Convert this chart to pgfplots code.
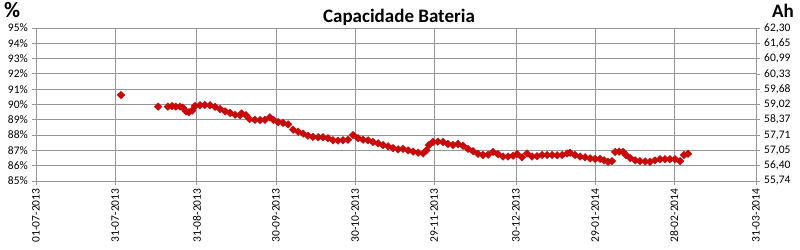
\documentclass[border=0pt]{standalone}
\usepackage{pgfplots}
\pgfplotsset{compat=1.18}
\usepackage{fontspec}
\setmainfont{Carlito}
\definecolor{gridc}{RGB}{150,150,150}
\definecolor{mred}{RGB}{200,10,10}
\begin{document}
\begin{tikzpicture}[x=1pt,y=1pt]
\path[use as bounding box] (0,0) rectangle (800,249);
\begin{axis}[
  at={(36pt,68pt)}, anchor=south west,
  scale only axis, width=720pt, height=153pt,
  xmin=0, xmax=273, ymin=85, ymax=95,
  axis y line*=left, axis x line*=bottom,
  axis line style={gridc, line width=0.8pt},
  xtick={0,30,61,91,121,151,182,212,242,273},
  xticklabels={01-07-2013,31-07-2013,31-08-2013,30-09-2013,30-10-2013,29-11-2013,30-12-2013,29-01-2014,28-02-2014,31-03-2014},
  x tick label style={rotate=90, anchor=east, font=\fontsize{11.5}{11.5}\selectfont},
  ytick={85,86,...,95},
  yticklabels={85\%,86\%,87\%,88\%,89\%,90\%,91\%,92\%,93\%,94\%,95\%},
  y tick label style={font=\fontsize{11.5}{11.5}\selectfont, inner sep=1pt, xshift=-3pt},
  tick style={gridc, line width=0.8pt},
  tick align=outside, major tick length=4pt,
  grid=major, major grid style={gridc, line width=0.8pt},
  clip=false,
]
\addplot[only marks, mark=diamond*, mark size=3.8pt, mark options={xscale=1.35}, color=mred] coordinates {
(32.2,90.62)
(46.3,89.86)
(50,89.86)(51.6,89.9)(53,89.86)(54.6,89.86)(55.7,89.8)(56.9,89.55)(58,89.5)(59.2,89.6)
(60.3,89.9)(62.2,89.95)(64,89.97)(66,89.95)(67.9,89.85)(69.8,89.7)(71.7,89.55)(73.6,89.45)
(75.5,89.33)(77.4,89.3)(78,89.42)(79.6,89.3)(81,89.05)(83,89.0)(85,88.98)(86.8,89.0)
(88.7,89.16)(90,89.0)(91.8,88.85)(93.7,88.8)(95.6,88.7)(97.5,88.35)(99.4,88.22)(101.3,88.1)
(103.1,87.96)(105,87.88)(107,87.86)(108.8,87.86)(110.7,87.8)(112.6,87.66)(114.5,87.64)
(116.4,87.66)(118.3,87.7)(120.2,88.0)(122.1,87.8)(124,87.7)(125.9,87.66)(127.8,87.55)
(129.7,87.46)(131.6,87.35)(133.5,87.26)(135.4,87.15)(137.3,87.07)(139.2,87.1)(141.1,87.0)
(143,86.92)(144.9,86.85)(146.8,86.8)(148,87.0)(149,87.35)(150.5,87.55)(152.4,87.57)
(154.3,87.55)(156.2,87.42)(158.1,87.35)(160,87.42)(161.9,87.3)(163.8,87.1)(165.7,86.95)
(167.6,86.78)(169.5,86.7)(171.4,86.72)(173.3,86.9)(175.2,86.75)(177.1,86.6)(179,86.6)
(180.9,86.65)(182.4,86.76)(184.3,86.55)(186.2,86.8)(188.1,86.6)(190,86.62)(191.9,86.7)
(193.8,86.7)(195.7,86.7)(197.6,86.68)(199.5,86.7)(201.4,86.8)(202.5,86.85)(204.4,86.7)
(206.3,86.6)(208.2,86.55)(210.1,86.48)(212,86.45)(213.9,86.45)(215.4,86.35)(216.9,86.26)
(218.4,86.3)(219.6,86.9)(221.1,86.92)(222.6,86.9)(223.7,86.7)(225.3,86.5)(227.2,86.35)
(229,86.3)(231,86.28)(232.8,86.26)(234.7,86.35)(236.6,86.42)(238.5,86.42)(240.4,86.42)
(242.3,86.42)(244.2,86.3)(245.7,86.7)(247.2,86.78)
};
\end{axis}
\begin{axis}[
  at={(36pt,68pt)}, anchor=south west,
  scale only axis, width=720pt, height=153pt,
  xmin=0, xmax=273, ymin=55.74, ymax=62.30,
  axis x line=none, axis y line*=right,
  axis line style={gridc, line width=0.8pt},
  ytick={55.74,56.40,57.05,57.71,58.37,59.02,59.68,60.33,60.99,61.65,62.30},
  yticklabels={{55,74},{56,40},{57,05},{57,71},{58,37},{59,02},{59,68},{60,33},{60,99},{61,65},{62,30}},
  y tick label style={font=\fontsize{11.5}{11.5}\selectfont, inner sep=1pt, xshift=3pt},
  tick style={gridc, line width=0.8pt},
  tick align=outside, major tick length=4pt,
]
\end{axis}
\node[font=\bfseries\fontsize{22}{22}\selectfont] at (399,232) {\fontsize{19}{19}\selectfont Capacidade Bateria};
\node[font=\bfseries\fontsize{22}{22}\selectfont, inner sep=0pt, anchor=base west] at (4,231) {\%};
\node[font=\bfseries\fontsize{19}{19}\selectfont, inner sep=0pt, anchor=base east] at (794,231) {Ah};
\end{tikzpicture}
\end{document}
